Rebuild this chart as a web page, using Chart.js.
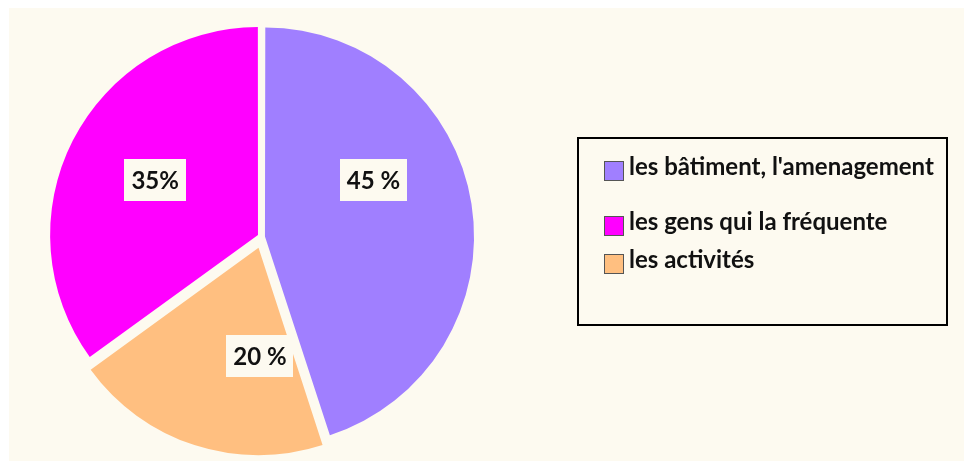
<!DOCTYPE html>
<html lang="fr">
<head>
<meta charset="utf-8">
<title>Ce qui compte dans le lieu</title>
<script src="https://cdn.jsdelivr.net/npm/chart.js@4"></script>
<style>
    html, body {
        margin: 0;
        padding: 0;
        background: #ffffff;
    }
    #fond {
        position: absolute;
        left: 9px;
        top: 8px;
        right: 0;
        bottom: 0;
        background: #fdfaf0;
    }
    #graphique {
        position: absolute;
        left: 0;
        top: 0;
    }
</style>
</head>
<body>
<div id="fond"></div>
<canvas id="graphique" width="964" height="461"></canvas>

<script>
// Données (ordre de tracé : sens horaire depuis le haut)
const categories = ["les bâtiment, l'amenagement", "les activités", "les gens qui la fréquente"];
const valeurs = [45, 20, 35];
const suffixes = [" %", " %", "%"];
const couleurs = ["#a07fff", "#ffbf80", "#ff00ff"];

// ordre d'affichage dans la légende
const ordreLegende = [0, 2, 1];

const police = "bold 24px Lato, 'Open Sans', sans-serif";

// Étiquettes de pourcentage dans des cadres clairs
const etiquettes = {
    id: "etiquettes",
    afterDatasetsDraw(chart, args, opts) {
        const ctx = chart.ctx;
        const arcs = chart.getDatasetMeta(0).data;
        ctx.save();
        ctx.font = police;
        ctx.textAlign = "center";
        ctx.textBaseline = "middle";
        arcs.forEach((arc, i) => {
            const pos = opts.positions[i];
            const a = pos.angle * Math.PI / 180;
            const x = arc.x + pos.dist * Math.sin(a);
            const y = arc.y - pos.dist * Math.cos(a);
            const texte = valeurs[i] + suffixes[i];
            const w = ctx.measureText(texte).width + 14;
            const h = 42;
            ctx.fillStyle = "#fdfaf0";
            ctx.fillRect(Math.round(x - w / 2), Math.round(y - h / 2), Math.round(w), h);
            ctx.fillStyle = "#111111";
            ctx.fillText(texte, x, y + 1);
        });
        ctx.restore();
    }
};

// Légende encadrée à droite
const legende = {
    id: "legende",
    afterDraw(chart, args, opts) {
        const ctx = chart.ctx;
        const b = opts.box;
        ctx.save();
        ctx.lineWidth = 2;
        ctx.strokeStyle = "#000000";
        ctx.strokeRect(b.x, b.y, b.w, b.h);

        ctx.font = police;
        ctx.textAlign = "left";
        ctx.textBaseline = "alphabetic";
        ordreLegende.forEach((idx, row) => {
            const base = opts.baselines[row];
            ctx.fillStyle = couleurs[idx];
            ctx.fillRect(opts.swatchX, base - 14, 20, 20);
            ctx.lineWidth = 1;
            ctx.strokeStyle = "#555555";
            ctx.strokeRect(opts.swatchX + 0.5, base - 13.5, 19, 19);
            ctx.fillStyle = "#111111";
            ctx.fillText(categories[idx], opts.textX, base);
        });
        ctx.restore();
    }
};

new Chart(
    document.getElementById("graphique"),
    {
        type: "pie",
        data: {
            labels: categories,
            datasets: [{
                data: valeurs,
                backgroundColor: couleurs,
                borderWidth: 0,
                // Chart.js divise le décalage par 4 (plus un correctif pour les petites parts)
                offset: [12, 45, 18],
                hoverOffset: 0
            }]
        },
        options: {
            responsive: false,
            animation: false,
            radius: 207,
            layout: {
                padding: { left: 0, top: 13, right: 440, bottom: 0 }
            },
            plugins: {
                legend: { display: false },
                tooltip: { enabled: false },
                etiquettes: {
                    positions: [
                        { angle: 63, dist: 125 },
                        { angle: 181, dist: 119 },
                        { angle: 298, dist: 121 }
                    ]
                },
                legende: {
                    box: { x: 578, y: 138, w: 369, h: 187 },
                    swatchX: 604,
                    textX: 629,
                    baselines: [175, 230, 268]
                }
            }
        },
        plugins: [etiquettes, legende]
    }
);
</script>
</body>
</html>
